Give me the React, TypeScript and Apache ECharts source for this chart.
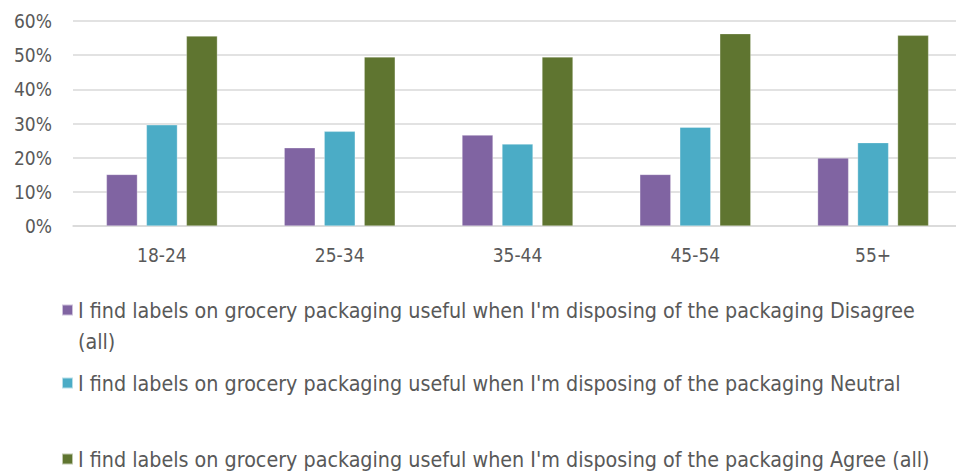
import React, { useEffect, useRef } from "react";
import * as echarts from "echarts";

const categories = ["18-24", "25-34", "35-44", "45-54", "55+"];
const disagree = [15.1, 22.9, 26.6, 15.1, 19.9];
const neutral = [29.6, 27.7, 24.0, 28.9, 24.4];
const agree = [55.6, 49.5, 49.5, 56.3, 55.8];
const seriesNames = [
  "I find labels on grocery packaging useful when I'm disposing of the packaging Disagree (all)",
  "I find labels on grocery packaging useful when I'm disposing of the packaging Neutral",
  "I find labels on grocery packaging useful when I'm disposing of the packaging Agree (all)",
];
const colors = ["#8064A2", "#4BACC6", "#5F7530"];
const yTicks = [0, 10, 20, 30, 40, 50, 60];

const FONT = "'DejaVu Sans Condensed', 'Liberation Sans', sans-serif";
const TXT = "#595959";

export default function App() {
  const ref = useRef<HTMLDivElement>(null);
  useEffect(() => {
    document.body.style.margin = "0";
    const chart = echarts.init(ref.current!, null, { renderer: "svg" });
    const legendTops = [299, 372, 448];
    chart.setOption({
      animation: false,
      backgroundColor: "#ffffff",
      textStyle: { fontFamily: FONT },
      grid: { left: 73, width: 889, top: 21, height: 205, containLabel: false, outerBoundsMode: "none" },
      xAxis: {
        type: "category",
        data: categories,
        axisLine: { show: true, lineStyle: { color: "#D9D9D9", width: 1.5 } },
        axisTick: { show: false },
        axisLabel: { color: TXT, fontSize: 19, margin: 19, fontFamily: FONT },
      },
      yAxis: {
        type: "value",
        min: yTicks[0],
        max: yTicks[yTicks.length - 1],
        interval: 10,
        axisLine: { show: false },
        axisTick: { show: false },
        splitLine: { lineStyle: { color: "#D9D9D9", width: 1.5 } },
        axisLabel: { color: TXT, fontSize: 19, margin: 21, formatter: "{value}%", fontFamily: FONT },
      },
      legend: seriesNames.map((n, i) => ({
        data: [n],
        left: 61,
        top: legendTops[i],
        padding: 0,
        orient: "vertical",
        itemWidth: 11,
        itemHeight: 11,
        icon: "rect",
        selectedMode: false,
        formatter: (name: string) => (i === 0 ? name.replace(" (all)", "") : name),
        textStyle: { color: TXT, fontSize: 21.3, lineHeight: 22, fontFamily: FONT },
      })),
      graphic: [
        {
          type: "text",
          left: 78,
          top: 331,
          style: { text: "(all)", fill: TXT, fontSize: 21.3, fontFamily: FONT },
        },
      ],
      series: [disagree, neutral, agree].map((d, i) => ({
        name: seriesNames[i],
        type: "bar",
        data: d,
        barWidth: 31,
        barGap: "29%",
        itemStyle: { color: colors[i], borderColor: "rgba(255,255,255,0.6)", borderWidth: 0.5 },
      })),
    });
    return () => chart.dispose();
  }, []);
  return <div ref={ref} style={{ width: 956, height: 473 }} />;
}
